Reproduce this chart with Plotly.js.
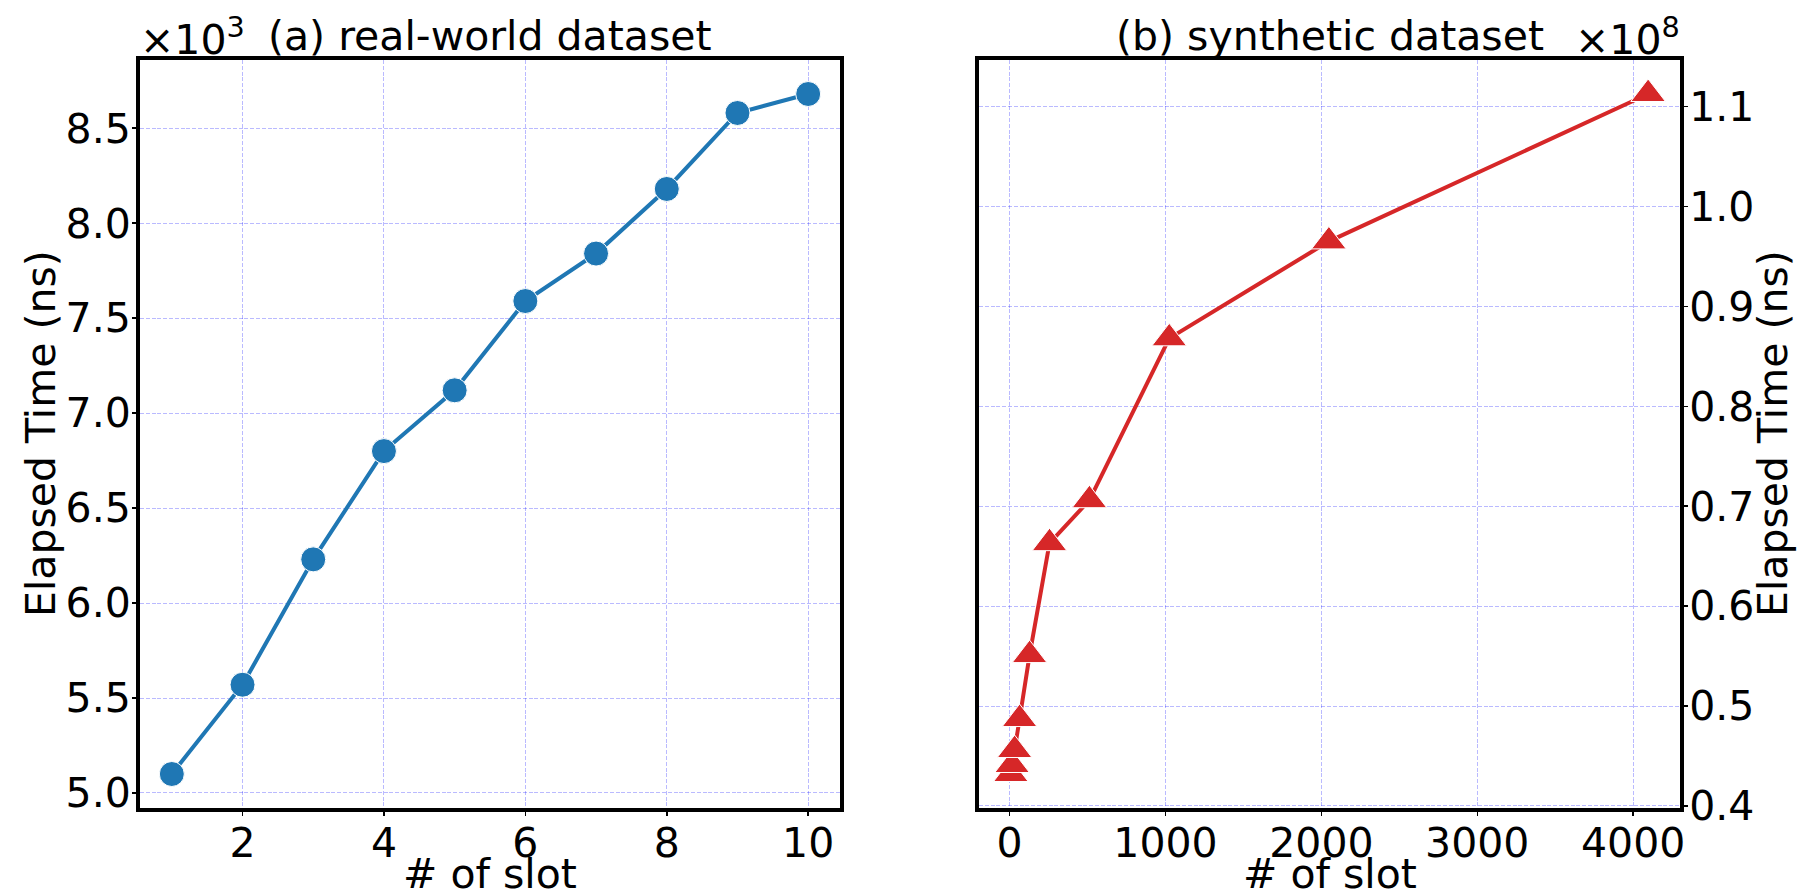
<!DOCTYPE html>
<html>
<head>
<meta charset="utf-8">
<script src="https://cdn.plot.ly/plotly-3.0.1.min.js"></script>
<style>
  html, body { margin: 0; padding: 0; background: #fff; }
  #chart { width: 1799px; height: 895px; }
</style>
</head>
<body>
<div id="chart"></div>
<script>
// ---- data ----
// (a) real-world dataset: elapsed time in units of 10^3 ns
var slotsA = [1, 2, 3, 4, 5, 6, 7, 8, 9, 10];
var timeA = [5.10, 5.57, 6.23, 6.80, 7.12, 7.59, 7.84, 8.18, 8.58, 8.68];
var expA = 3;
// (b) synthetic dataset: elapsed time in units of 10^8 ns
var slotsB = [8, 16, 32, 64, 128, 256, 512, 1024, 2048, 4096];
var timeB = [0.432, 0.441, 0.456, 0.487, 0.551, 0.663, 0.706, 0.868, 0.965, 1.1125];
var expB = 8;
// tick labels
var xTicksA = [2, 4, 6, 8, 10];
var yTicksA = [5.0, 5.5, 6.0, 6.5, 7.0, 7.5, 8.0, 8.5];
var xTicksB = [0, 1000, 2000, 3000, 4000];
var yTicksB = [0.4, 0.5, 0.6, 0.7, 0.8, 0.9, 1.0, 1.1];

var titleA = '(a) real-world dataset';
var titleB = '(b) synthetic dataset';
var xLabel = '# of slot';
var yLabel = 'Elapsed Time (ns)';

// ---- styles ----
var FONT = 'DejaVu Sans, Liberation Sans, sans-serif';
var FS = 41;
var BLUE = '#1f77b4';
var RED = '#d62728';
var GRID = 'rgba(0,0,255,0.27)';

function pad(arr, frac) {
  var mn = Math.min.apply(null, arr), mx = Math.max.apply(null, arr);
  var d = (mx - mn) * frac;
  return [mn - d, mx + d];
}

var traceA = {
  x: slotsA, y: timeA, xaxis: 'x', yaxis: 'y',
  type: 'scatter', mode: 'lines+markers',
  line: {color: BLUE, width: 4},
  marker: {symbol: 'circle', size: 25, color: BLUE, line: {color: '#ffffff', width: 1}},
  showlegend: false, hoverinfo: 'x+y'
};
var traceB = {
  x: slotsB, y: timeB, xaxis: 'x2', yaxis: 'y2',
  type: 'scatter', mode: 'lines+markers',
  line: {color: RED, width: 4},
  marker: {symbol: 'triangle-up', size: 30, color: RED, line: {color: '#ffffff', width: 1}},
  showlegend: false, hoverinfo: 'x+y'
};

function axisBase() {
  return {
    showline: true, linecolor: '#000', linewidth: 4, mirror: true,
    ticks: 'outside', ticklen: 4, tickwidth: 1.5, tickcolor: '#000',
    showgrid: true, gridcolor: GRID, gridwidth: 1, griddash: '4px,1.8px',
    zeroline: false,
    tickfont: {family: FONT, size: FS, color: '#000'},
    tickmode: 'array'
  };
}

var xa = axisBase();
Object.assign(xa, {
  domain: [0, 700 / 1540], anchor: 'y', ticklabelstandoff: -8,
  range: pad(slotsA, 0.05), tickvals: xTicksA, ticktext: xTicksA.map(String)
});
var ya = axisBase();
Object.assign(ya, {
  domain: [0, 1], anchor: 'x', ticklabelstandoff: -7,
  range: pad(timeA, 0.05), tickvals: yTicksA, ticktext: yTicksA.map(function (v) { return v.toFixed(1); })
});
var xb = axisBase();
Object.assign(xb, {
  domain: [839 / 1540, 1], anchor: 'y2', ticklabelstandoff: -8,
  range: pad(slotsB, 0.05), tickvals: xTicksB, ticktext: xTicksB.map(String)
});
var yb = axisBase();
Object.assign(yb, {
  domain: [0, 1], anchor: 'x2', side: 'right', ticklabelstandoff: -7,
  range: pad(timeB, 0.05), tickvals: yTicksB, ticktext: yTicksB.map(function (v) { return v.toFixed(1); })
});

var annFont = {family: FONT, size: FS, color: '#000'};
var PW = 1540, PH = 748; // plot-area size in px
function ann(o) {
  return Object.assign({showarrow: false, font: annFont}, o);
}
var layout = {
  width: 1799, height: 895,
  margin: {l: 140, r: 119, t: 60, b: 87, pad: 0},
  paper_bgcolor: '#fff', plot_bgcolor: '#fff',
  font: {family: FONT, size: FS, color: '#000'},
  xaxis: xa, yaxis: ya, xaxis2: xb, yaxis2: yb,
  annotations: [
    ann({text: titleA, xref: 'x domain', yref: 'y domain', x: 0.5, y: 1, xanchor: 'center', yanchor: 'bottom', yshift: -2}),
    ann({text: '×10<sup>' + expA + '</sup>', xref: 'x domain', yref: 'y domain', x: 0, y: 1, xanchor: 'left', yanchor: 'bottom', yshift: -6, xshift: -2}),
    ann({text: titleB, xref: 'x2 domain', yref: 'y2 domain', x: 0.5, y: 1, xanchor: 'center', yanchor: 'bottom', yshift: -2}),
    ann({text: '×10<sup>' + expB + '</sup>', xref: 'x2 domain', yref: 'y2 domain', x: 1, y: 1, xanchor: 'right', yanchor: 'bottom', yshift: -6, xshift: 2}),
    // axis titles
    ann({text: xLabel, xref: 'x domain', yref: 'paper', x: 0.5, y: -66 / PH, xanchor: 'center', yanchor: 'middle'}),
    ann({text: xLabel, xref: 'x2 domain', yref: 'paper', x: 0.5, y: -66 / PH, xanchor: 'center', yanchor: 'middle'}),
    ann({text: yLabel, xref: 'paper', yref: 'paper', x: -99 / PW, y: 0.5, xanchor: 'center', yanchor: 'middle', textangle: -90}),
    ann({text: yLabel, xref: 'paper', yref: 'paper', x: 1633 / PW, y: 0.5, xanchor: 'center', yanchor: 'middle', textangle: -90})
  ]
};

Plotly.newPlot('chart', [traceA, traceB], layout, {displayModeBar: false, staticPlot: true});
</script>
</body>
</html>
